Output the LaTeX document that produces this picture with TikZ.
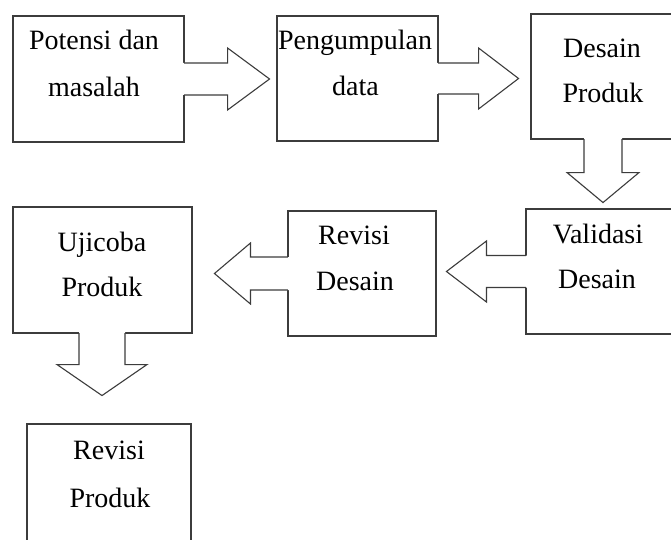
\documentclass[tikz,border=0pt]{standalone}
\usepackage{fontspec}
\setmainfont{Liberation Serif}
\usetikzlibrary{calc}
\definecolor{edge}{HTML}{3C3C3C}
\tikzset{
  box/.style={draw=edge, line width=1.1pt, fill=white, rectangle, inner sep=0pt},
  lbl/.style={anchor=base, inner sep=0pt, font=\fontsize{28}{34}\selectfont},
  arrowline/.style={draw=edge, line width=1.1pt, line join=miter},
}
\begin{document}
\begin{tikzpicture}[x=1pt,y=-1pt]
\useasboundingbox (0,0) rectangle (671,540);
\clip (0,0) rectangle (671,540);
% boxes
\node[box, minimum width=171, minimum height=126] (b1) at (98.5,79) {};
\node[box, minimum width=161, minimum height=125] (b2) at (357.5,78.5) {};
\node[box, minimum width=144, minimum height=125] (b3) at (603,76.5) {};
\node[box, minimum width=150, minimum height=125] (b4) at (601,271.5) {};
\node[box, minimum width=148, minimum height=125] (b5) at (362,273.5) {};
\node[box, minimum width=179, minimum height=126] (b6) at (102.5,270) {};
\node[box, minimum width=164, minimum height=126] (b7) at (109,487) {};
% arrow 1: b1 -> b2
\fill[white] ($(b1.east)+(-2,-16)$) -- ++(45,0) -- ++(0,-15) -- ++(42,31) -- ++(-42,31) -- ++(0,-15) -- ++(-45,0) -- cycle;
\draw[arrowline] ($(b1.east)+(-0.5,-16)$) -- ++(43.5,0) -- ++(0,-15) -- ++(42,31) -- ++(-42,31) -- ++(0,-15) -- ++(-43.5,0);
% arrow 2: b2 -> b3
\fill[white] ($(b2.east)+(-2,-15.5)$) -- ++(42,0) -- ++(0,-15) -- ++(40,30.5) -- ++(-40,30.5) -- ++(0,-15) -- ++(-42,0) -- cycle;
\draw[arrowline] ($(b2.east)+(-0.5,-15.5)$) -- ++(40.5,0) -- ++(0,-15) -- ++(40,30.5) -- ++(-40,30.5) -- ++(0,-15) -- ++(-40.5,0);
% arrow 3: b3 -> b4 (down)
\fill[white] ($(b3.south)+(-19,-2)$) -- ++(0,35) -- ++(-17,0) -- ++(36,30) -- ++(36,-30) -- ++(-17,0) -- ++(0,-35) -- cycle;
\draw[arrowline] ($(b3.south)+(-19,-0.5)$) -- ++(0,33.5) -- ++(-17,0) -- ++(36,30) -- ++(36,-30) -- ++(-17,0) -- ++(0,-33.5);
% arrow 4: b4 -> b5 (left)
\fill[white] ($(b4.west)+(2,-16)$) -- ++(-41,0) -- ++(0,-14.5) -- ++(-40,30.5) -- ++(40,30.5) -- ++(0,-14.5) -- ++(41,0) -- cycle;
\draw[arrowline] ($(b4.west)+(0.5,-16)$) -- ++(-39.5,0) -- ++(0,-14.5) -- ++(-40,30.5) -- ++(40,30.5) -- ++(0,-14.5) -- ++(39.5,0);
% arrow 5: b5 -> b6 (left)
\fill[white] ($(b5.west)+(2,-16.5)$) -- ++(-39,0) -- ++(0,-14) -- ++(-36,30.5) -- ++(36,30.5) -- ++(0,-14) -- ++(39,0) -- cycle;
\draw[arrowline] ($(b5.west)+(0.5,-16.5)$) -- ++(-37.5,0) -- ++(0,-14) -- ++(-36,30.5) -- ++(36,30.5) -- ++(0,-14) -- ++(37.5,0);
% arrow 6: b6 -> b7 (down)
\fill[white] ($(b6.south)+(-23.5,-2)$) -- ++(0,33) -- ++(-22,0) -- ++(45,31) -- ++(45,-31) -- ++(-22,0) -- ++(0,-33) -- cycle;
\draw[arrowline] ($(b6.south)+(-23.5,-0.5)$) -- ++(0,31.5) -- ++(-22,0) -- ++(45,31) -- ++(45,-31) -- ++(-22,0) -- ++(0,-31.5);
% labels
\node[lbl] (t1a) at (94,50) {Potensi dan};
\node[lbl] (t1b) at (94,97) {masalah};
\node[lbl] (t2a) at (355,50) {Pengumpulan};
\node[lbl] (t2b) at (355.5,96) {data};
\node[lbl] (t3a) at (602,58) {Desain};
\node[lbl] (t3b) at (603,103) {Produk};
\node[lbl] (t4a) at (598,243) {Validasi};
\node[lbl] (t4b) at (597,288) {Desain};
\node[lbl] (t5a) at (354,244) {Revisi};
\node[lbl] (t5b) at (355,290) {Desain};
\node[lbl] (t6a) at (102,251) {Ujicoba};
\node[lbl] (t6b) at (102,296) {Produk};
\node[lbl] (t7a) at (109,459) {Revisi};
\node[lbl] (t7b) at (110,507) {Produk};
\end{tikzpicture}
\end{document}
